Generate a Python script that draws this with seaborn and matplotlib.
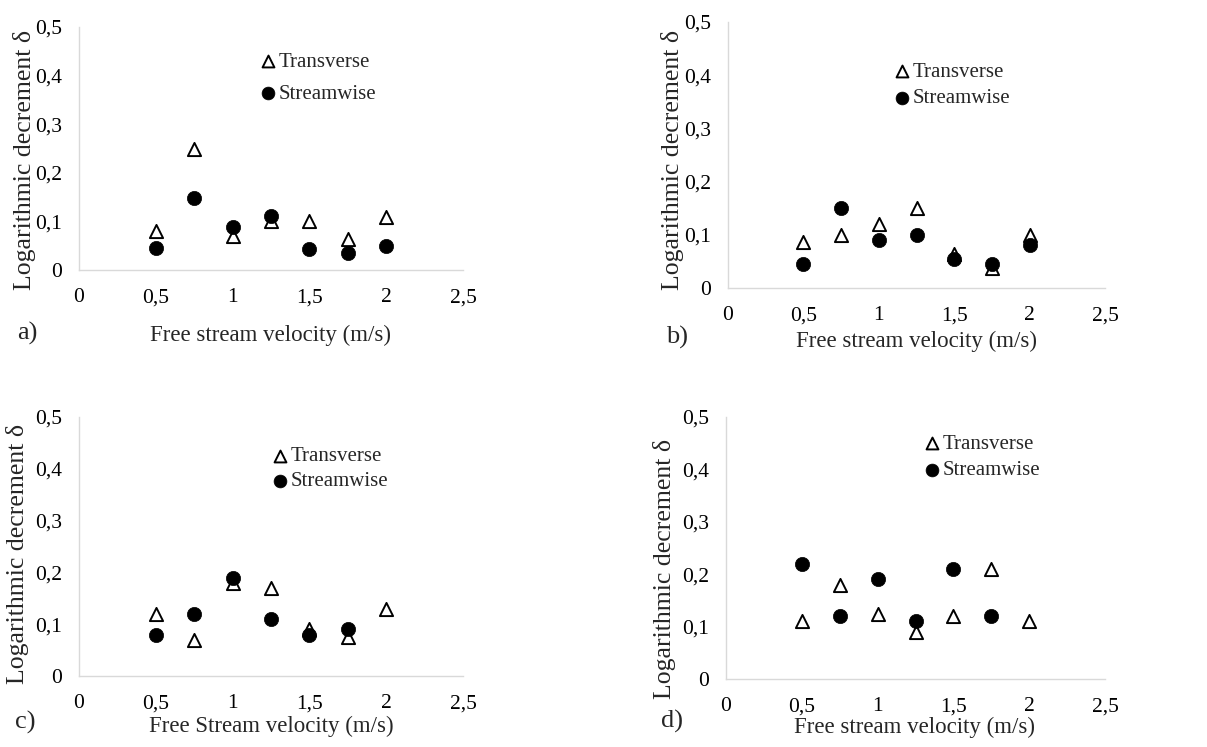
import numpy as np
import matplotlib
matplotlib.use('Agg')
import matplotlib.pyplot as plt
import pandas as pd
import seaborn as sns

# datos
velocidad = [0.5, 0.75, 1.0, 1.25, 1.5, 1.75, 2.0]
nan = np.nan

a_transverse = [0.08, 0.25, 0.07, 0.10, 0.10, 0.063, 0.11]
a_streamwise = [0.045, 0.148, 0.088, 0.112, 0.044, 0.036, 0.05]
b_transverse = [0.087, 0.10, 0.12, 0.15, 0.063, 0.038, 0.10]
b_streamwise = [0.045, 0.15, 0.091, 0.10, 0.055, 0.045, 0.08]
c_transverse = [0.12, 0.07, 0.18, 0.17, 0.09, 0.075, 0.13]
c_streamwise = [0.08, 0.12, 0.19, 0.11, 0.08, 0.09, nan]
d_transverse = [0.11, 0.18, 0.125, 0.09, 0.12, 0.21, 0.11]
d_streamwise = [0.22, 0.12, 0.19, 0.11, 0.21, 0.12, nan]

x_ticks = [0, 0.5, 1, 1.5, 2, 2.5]
x_tick_labels = ['0', '0,5', '1', '1,5', '2', '2,5']
y_ticks = [0, 0.1, 0.2, 0.3, 0.4, 0.5]
y_tick_labels = ['0', '0,1', '0,2', '0,3', '0,4', '0,5']

paneles = ['a)', 'b)', 'c)', 'd)']
xlabels = ['Free stream velocity (m/s)', 'Free stream velocity (m/s)',
           'Free Stream velocity (m/s)', 'Free stream velocity (m/s)']
ylabel = 'Logarithmic decrement δ'

sns.set_style('white')
plt.rcParams['font.family'] = ['Liberation Serif', 'DejaVu Serif']

W, H = 1207, 747
fig = plt.figure(figsize=(W / 100, H / 100), dpi=100)


def rect(l, r, t, b):
    return [l / W, 1 - b / H, (r - l) / W, (b - t) / H]


def fig_xy(x, y):
    return x / W, 1 - y / H


# posiciones en pixeles (layout)
rects = [rect(79, 463, 27, 270), rect(728, 1105, 22, 288),
         rect(79, 463, 417, 676), rect(726, 1105, 417, 679)]
ylabel_pos = [(25, 160), (672, 160), (18, 554), (665, 569)]
xlabel_pos = [(271, 335), (916, 341), (271, 726), (915, 727)]
letra_pos = [(27, 333), (677, 337), (25, 722), (672, 721)]
leyenda_pos = [(261, 78), (895, 85), (273, 469), (925, 457)]
leyenda_esp = [0.6, 0.33, 0.25, 0.33]

datos = [(a_transverse, a_streamwise), (b_transverse, b_streamwise),
         (c_transverse, c_streamwise), (d_transverse, d_streamwise)]

for i, (trans, stream) in enumerate(datos):
    ax = fig.add_axes(rects[i])
    df = pd.DataFrame({'Velocidad': velocidad, 'Transverse': trans, 'Streamwise': stream})

    sns.scatterplot(data=df, x='Velocidad', y='Transverse', ax=ax, marker='^', s=90,
                    color='white', edgecolor='black', linewidth=1.4, label='Transverse', zorder=3)
    sns.scatterplot(data=df, x='Velocidad', y='Streamwise', ax=ax, marker='o', s=105,
                    color='black', edgecolor='black', linewidth=0.5, label='Streamwise', zorder=4)

    ax.set_xlim(0, 2.5)
    ax.set_ylim(0, 0.5)
    ax.set_xticks(x_ticks)
    ax.set_xticklabels(x_tick_labels)
    ax.set_yticks(y_ticks)
    ax.set_yticklabels(y_tick_labels)
    ax.tick_params(length=0, labelsize=15.5, colors='black')
    ax.tick_params(axis='x', pad=13)
    ax.tick_params(axis='y', pad=12)

    for s in ['top', 'right']:
        ax.spines[s].set_visible(False)
    for s in ['left', 'bottom']:
        ax.spines[s].set_color('#d9d9d9')
        ax.spines[s].set_linewidth(1.0)

    ax.set_ylabel(ylabel, fontsize=18.5, va='center', ha='center')
    ax.yaxis.set_label_coords(*fig_xy(*ylabel_pos[i]), transform=fig.transFigure)
    ax.set_xlabel(xlabels[i], fontsize=16.5, va='center', ha='center')
    ax.xaxis.set_label_coords(*fig_xy(*xlabel_pos[i]), transform=fig.transFigure)

    ax.legend(loc='center left', bbox_to_anchor=fig_xy(*leyenda_pos[i]),
              bbox_transform=fig.transFigure, frameon=False, fontsize=15,
              handlelength=0.7, handletextpad=0.15, borderpad=0, borderaxespad=0,
              labelspacing=leyenda_esp[i], markerscale=0.9)

    fig.text(*fig_xy(*letra_pos[i]), paneles[i], fontsize=19, ha='center', va='center')

fig.savefig('out.png', dpi=100, facecolor='white')
